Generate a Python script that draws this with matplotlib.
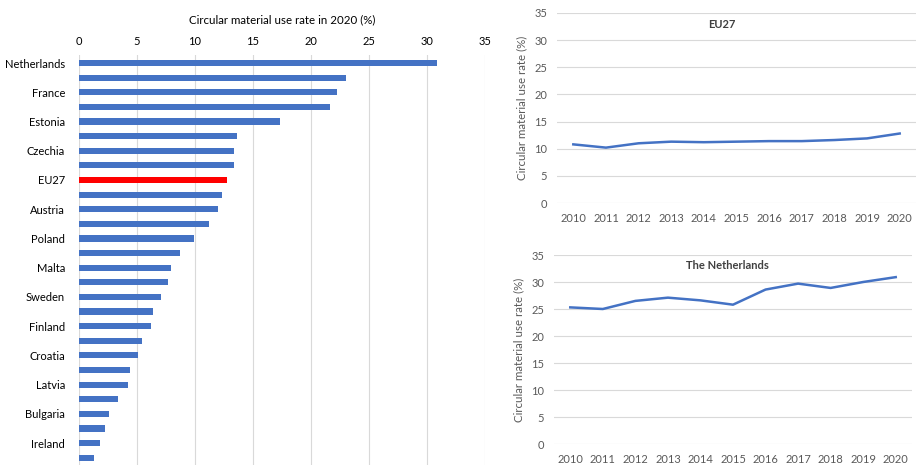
import numpy as np
import matplotlib.pyplot as plt

plt.rcParams['font.family'] = ['Lato', 'DejaVu Sans']

# bar chart: 2020 values, sorted; only every other bar is labelled in the original
countries = ['Netherlands', '', 'France', '', 'Estonia', '', 'Czechia', '',
             'EU27', '', 'Austria', '', 'Poland', '', 'Malta', '', 'Sweden', '',
             'Finland', '', 'Croatia', '', 'Latvia', '', 'Bulgaria', '', 'Ireland', '']
rate_2020 = [30.9, 23.0, 22.2, 21.6, 17.3, 13.6, 13.4, 13.4, 12.8, 12.3, 12.0, 11.2,
             9.9, 8.7, 7.9, 7.7, 7.1, 6.4, 6.2, 5.4, 5.1, 4.4, 4.2, 3.4, 2.6, 2.2, 1.8, 1.3]

years = [2010, 2011, 2012, 2013, 2014, 2015, 2016, 2017, 2018, 2019, 2020]
eu27 = [10.8, 10.2, 11.0, 11.3, 11.2, 11.3, 11.4, 11.4, 11.6, 11.9, 12.8]
netherlands = [25.3, 25.0, 26.5, 27.1, 26.6, 25.8, 28.6, 29.7, 28.9, 30.0, 30.9]

blue = '#4472C4'
grid = '#D9D9D9'
grey_txt = '#595959'

W, H = 917, 465
fig = plt.figure(figsize=(W / 100, H / 100), dpi=100)


def px_axes(x0, y0, x1, y1):
    return fig.add_axes([x0 / W, 1 - y1 / H, (x1 - x0) / W, (y1 - y0) / H])


# ---- bar chart
ax = px_axes(79, 55, 485, 465)
pos = np.arange(len(countries))
colors = ['#FF0000' if c == 'EU27' else blue for c in countries]
ax.barh(pos, rate_2020, height=0.42, color=colors, zorder=3)
ax.set_xlim(0, 35)
ax.set_ylim(27.5, -0.55)
ax.set_xticks(range(0, 36, 5))
ax.set_yticks(pos)
ax.set_yticklabels(countries)
ax.xaxis.tick_top()
ax.xaxis.set_label_position('top')
ax.set_xlabel('Circular material use rate in 2020 (%)', fontsize=8.3, labelpad=9)
ax.tick_params(length=0, labelsize=8, pad=6)
ax.tick_params(axis='y', pad=10)
ax.grid(axis='x', color=grid, lw=0.8, zorder=0)
for s in ax.spines.values():
    s.set_visible(False)


# ---- line charts
def line_chart(axl, vals, title, tx, ty):
    axl.plot(range(len(years)), vals, color=blue, lw=1.8, zorder=3)
    axl.set_xlim(-0.5, len(years) - 0.5)
    axl.set_ylim(0, 35)
    axl.set_yticks(range(0, 36, 5))
    axl.set_xticks(range(len(years)))
    axl.set_xticklabels(years)
    axl.tick_params(length=0, labelsize=8, colors=grey_txt, pad=7)
    axl.grid(axis='y', color=grid, lw=0.8, zorder=0)
    for s in axl.spines.values():
        s.set_visible(False)
    axl.set_ylabel('Circular material use rate (%)', fontsize=8.3, color=grey_txt, labelpad=5)
    axl.text(tx, ty, title, transform=axl.transAxes, ha='center', va='center',
             fontsize=8, fontweight='bold', color='#404040')


ax1 = px_axes(557, 13, 916, 203)
line_chart(ax1, eu27, 'EU27', 0.459, 0.94)
ax2 = px_axes(554, 255, 912, 444)
line_chart(ax2, netherlands, 'The Netherlands', 0.485, 0.947)

fig.savefig('out.png', dpi=100)
